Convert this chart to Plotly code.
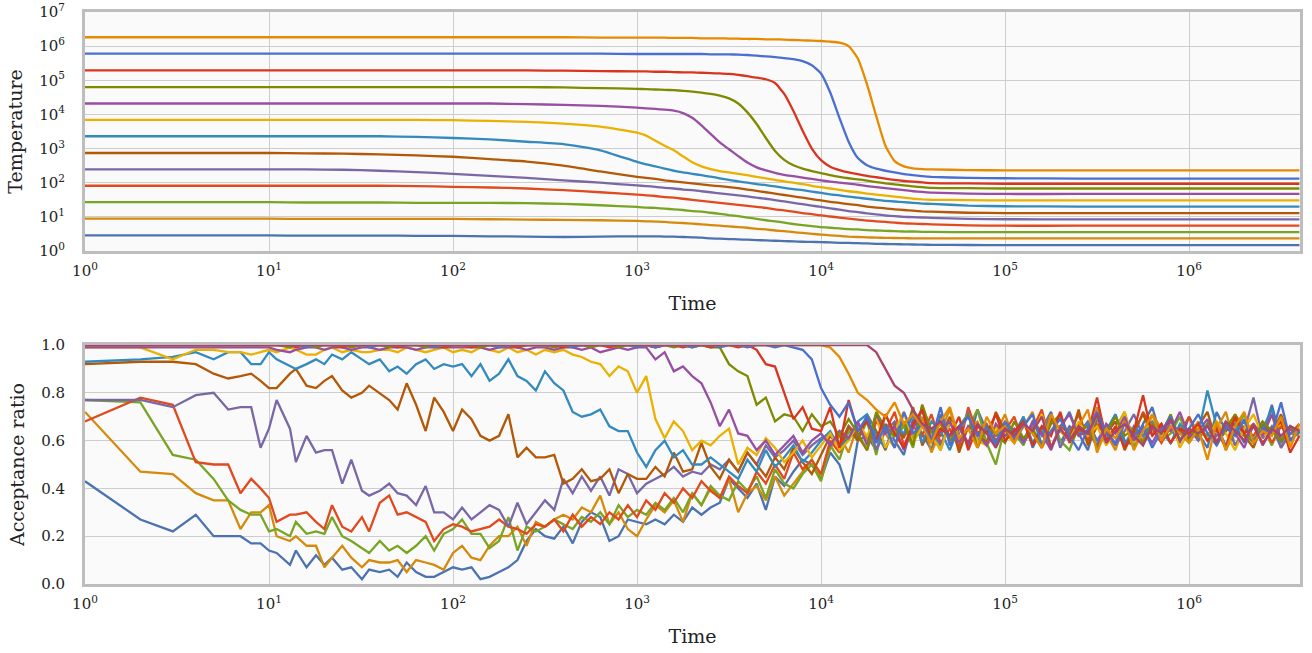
import plotly.graph_objects as go

# ---------------- data ----------------
series_colors = ["#4C72B0", "#D68A0C", "#78A524", "#E04A1E", "#7A68A6", "#B35806", "#348ABD",
                 "#EBB000", "#984EA3", "#7F8A00", "#D9341E", "#4A6FCF", "#E68A00", "#A8436E"]

x_tick_vals = [1, 10, 100, 1000, 10000, 100000, 1000000]
x_tick_text = ["10<sup>0</sup>", "10<sup>1</sup>", "10<sup>2</sup>", "10<sup>3</sup>",
               "10<sup>4</sup>", "10<sup>5</sup>", "10<sup>6</sup>"]
temp_tick_vals = [1, 10, 100, 1000, 10000, 100000, 1000000, 10000000]
temp_tick_text = ["10<sup>0</sup>", "10<sup>1</sup>", "10<sup>2</sup>", "10<sup>3</sup>",
                  "10<sup>4</sup>", "10<sup>5</sup>", "10<sup>6</sup>", "10<sup>7</sup>"]

# --- temperature panel: sample times and log10(temperature) per chain ---
temp_time = [1, 1.585, 2.512, 3.981, 6.31, 10, 15.85, 25.12, 39.81, 63.1, 100, 158.5, 251.2, 398.1, 631, 1000,
             1122, 1259, 1413, 1585, 1778, 1995, 2239, 2512, 2818, 3162,
             3548, 3981, 4467, 5012, 5623, 6310, 7079, 7943, 8913, 10000,
             11220, 12589, 14125, 15849, 17783, 19953, 22387, 25119, 28184, 31623,
             35481, 39811,
             63096, 100000, 251189, 630957, 1584893, 3981072]

log_temp_0 = [0.455, 0.455, 0.455, 0.455, 0.455, 0.455, 0.45, 0.45, 0.45, 0.445, 0.44, 0.43, 0.42, 0.41, 0.42, 0.43,
              0.43, 0.43, 0.42, 0.42, 0.41, 0.4, 0.39, 0.37, 0.36, 0.35,
              0.34, 0.33, 0.32, 0.31, 0.3, 0.29, 0.28, 0.27, 0.265, 0.26,
              0.25, 0.24, 0.235, 0.23, 0.22, 0.21, 0.205, 0.2, 0.195, 0.19,
              0.185, 0.18,
              0.175, 0.17, 0.17, 0.17, 0.17, 0.17]
log_temp_1 = [0.945, 0.945, 0.945, 0.945, 0.945, 0.945, 0.94, 0.94, 0.94, 0.94, 0.94, 0.93, 0.92, 0.91, 0.9, 0.88,
              0.87, 0.86, 0.85, 0.83, 0.82, 0.8, 0.78, 0.76, 0.74, 0.72,
              0.7, 0.68, 0.65, 0.63, 0.6, 0.58, 0.55, 0.53, 0.5, 0.48,
              0.46, 0.44, 0.42, 0.41, 0.4, 0.39, 0.385, 0.38, 0.375, 0.37,
              0.37, 0.37,
              0.367, 0.367, 0.367, 0.367, 0.367, 0.367]
log_temp_2 = [1.43, 1.43, 1.43, 1.43, 1.43, 1.43, 1.42, 1.42, 1.42, 1.41, 1.41, 1.41, 1.4, 1.38, 1.34, 1.29,
              1.27, 1.26, 1.24, 1.22, 1.2, 1.17, 1.15, 1.12, 1.09, 1.05,
              1.02, 0.98, 0.94, 0.9, 0.87, 0.83, 0.79, 0.76, 0.73, 0.7,
              0.68, 0.66, 0.64, 0.63, 0.61, 0.6, 0.59, 0.58, 0.57, 0.57,
              0.56, 0.56,
              0.55, 0.55, 0.55, 0.55, 0.55, 0.55]
log_temp_3 = [1.91, 1.91, 1.91, 1.91, 1.91, 1.91, 1.91, 1.91, 1.91, 1.9, 1.88, 1.86, 1.83, 1.78, 1.72, 1.65,
              1.63, 1.61, 1.58, 1.56, 1.53, 1.5, 1.47, 1.44, 1.41, 1.38,
              1.35, 1.32, 1.29, 1.26, 1.22, 1.19, 1.15, 1.11, 1.08, 1.04,
              1.01, 0.98, 0.95, 0.92, 0.89, 0.87, 0.85, 0.83, 0.81, 0.8,
              0.79, 0.78,
              0.75, 0.74, 0.74, 0.74, 0.74, 0.74]
log_temp_4 = [2.39, 2.39, 2.39, 2.39, 2.39, 2.39, 2.39, 2.38, 2.35, 2.31, 2.26, 2.2, 2.14, 2.07, 2.0, 1.92,
              1.9, 1.88, 1.85, 1.83, 1.8, 1.78, 1.75, 1.72, 1.69, 1.66,
              1.63, 1.6, 1.56, 1.53, 1.49, 1.45, 1.41, 1.37, 1.33, 1.29,
              1.25, 1.21, 1.17, 1.14, 1.1, 1.07, 1.04, 1.02, 1.0, 0.99,
              0.98, 0.97,
              0.94, 0.93, 0.925, 0.925, 0.925, 0.925]
log_temp_5 = [2.87, 2.87, 2.87, 2.87, 2.87, 2.87, 2.86, 2.85, 2.83, 2.8, 2.76, 2.69, 2.62, 2.5, 2.33, 2.17,
              2.14, 2.11, 2.07, 2.04, 2.01, 1.98, 1.95, 1.92, 1.9, 1.87,
              1.84, 1.8, 1.76, 1.72, 1.68, 1.64, 1.6, 1.56, 1.52, 1.48,
              1.44, 1.41, 1.37, 1.34, 1.3, 1.27, 1.25, 1.22, 1.2, 1.18,
              1.16, 1.15,
              1.12, 1.11, 1.11, 1.11, 1.11, 1.11]
log_temp_6 = [3.36, 3.36, 3.36, 3.36, 3.36, 3.36, 3.36, 3.36, 3.36, 3.34, 3.31, 3.27, 3.2, 3.13, 2.95, 2.61,
              2.54, 2.48, 2.41, 2.35, 2.3, 2.26, 2.22, 2.18, 2.13, 2.08,
              2.04, 2.0, 1.96, 1.93, 1.89, 1.85, 1.81, 1.78, 1.74, 1.7,
              1.66, 1.63, 1.59, 1.56, 1.53, 1.5, 1.47, 1.45, 1.43, 1.41,
              1.39, 1.38,
              1.33, 1.31, 1.3, 1.3, 1.3, 1.3]
log_temp_7 = [3.84, 3.84, 3.84, 3.84, 3.84, 3.84, 3.84, 3.84, 3.84, 3.84, 3.83, 3.81, 3.78, 3.73, 3.64, 3.47,
              3.38, 3.23, 3.08, 2.95, 2.77, 2.6, 2.48, 2.4, 2.34, 2.3,
              2.26, 2.22, 2.17, 2.13, 2.08, 2.04, 2.0, 1.96, 1.91, 1.87,
              1.83, 1.79, 1.75, 1.72, 1.68, 1.65, 1.62, 1.59, 1.56, 1.53,
              1.51, 1.5,
              1.49, 1.48, 1.48, 1.48, 1.48, 1.48]
log_temp_8 = [4.32, 4.32, 4.32, 4.32, 4.32, 4.32, 4.32, 4.32, 4.32, 4.32, 4.32, 4.32, 4.3, 4.28, 4.25, 4.2,
              4.18, 4.16, 4.14, 4.11, 4.04, 3.9, 3.68, 3.43, 3.18, 2.98,
              2.78, 2.59, 2.45, 2.36, 2.29, 2.23, 2.19, 2.15, 2.11, 2.07,
              2.03, 2.0, 1.97, 1.94, 1.9, 1.87, 1.84, 1.81, 1.78, 1.75,
              1.73, 1.71,
              1.68, 1.67, 1.67, 1.67, 1.67, 1.67]
log_temp_9 = [4.8, 4.8, 4.8, 4.8, 4.8, 4.8, 4.8, 4.8, 4.8, 4.8, 4.8, 4.8, 4.8, 4.79, 4.77, 4.75,
              4.74, 4.73, 4.72, 4.71, 4.69, 4.67, 4.64, 4.6, 4.55, 4.47,
              4.32, 4.06, 3.72, 3.31, 2.93, 2.67, 2.51, 2.41, 2.34, 2.28,
              2.22, 2.17, 2.13, 2.1, 2.06, 2.02, 1.98, 1.95, 1.92, 1.89,
              1.87, 1.85,
              1.84, 1.83, 1.83, 1.83, 1.83, 1.83]
log_temp_10 = [5.29, 5.29, 5.29, 5.29, 5.29, 5.29, 5.29, 5.29, 5.29, 5.29, 5.29, 5.29, 5.29, 5.28, 5.27, 5.26,
               5.26, 5.25, 5.25, 5.24, 5.23, 5.23, 5.22, 5.21, 5.2, 5.19,
               5.16, 5.12, 5.08, 5.03, 4.92, 4.6, 4.1, 3.52, 3.0, 2.66,
               2.47, 2.37, 2.3, 2.25, 2.2, 2.16, 2.12, 2.08, 2.05, 2.03,
               2.01, 1.99,
               1.98, 1.97, 1.97, 1.97, 1.97, 1.97]
log_temp_11 = [5.78, 5.78, 5.78, 5.78, 5.78, 5.78, 5.78, 5.78, 5.78, 5.78, 5.78, 5.78, 5.78, 5.78, 5.78, 5.77,
               5.77, 5.77, 5.77, 5.77, 5.77, 5.77, 5.77, 5.76, 5.76, 5.76,
               5.75, 5.74, 5.72, 5.7, 5.68, 5.65, 5.62, 5.56, 5.44, 5.2,
               4.64, 3.9, 3.2, 2.72, 2.51, 2.41, 2.35, 2.3, 2.25, 2.22,
               2.19, 2.17,
               2.14, 2.13, 2.12, 2.12, 2.12, 2.12]
log_temp_12 = [6.26, 6.26, 6.26, 6.26, 6.26, 6.26, 6.26, 6.26, 6.26, 6.26, 6.26, 6.26, 6.26, 6.26, 6.25, 6.25,
               6.25, 6.25, 6.25, 6.24, 6.24, 6.24, 6.23, 6.23, 6.23, 6.22,
               6.22, 6.21, 6.21, 6.2, 6.2, 6.19, 6.18, 6.17, 6.16, 6.15,
               6.13, 6.1, 6.0, 5.64, 4.88, 3.95, 3.08, 2.63, 2.48, 2.42,
               2.4, 2.39,
               2.37, 2.36, 2.36, 2.36, 2.36, 2.36]

log_temps = [log_temp_0, log_temp_1, log_temp_2, log_temp_3, log_temp_4, log_temp_5, log_temp_6,
             log_temp_7, log_temp_8, log_temp_9, log_temp_10, log_temp_11, log_temp_12]

# --- acceptance panel: sample times and acceptance ratio (percent) per chain ---
acc_time = [1, 2, 3, 4, 5, 6, 7, 8, 9, 10,
            11, 13, 14, 16, 18, 20, 22, 25, 28, 32, 35, 40, 45, 50, 56, 63, 71, 79, 89, 100,
            112, 126, 141, 158, 178, 200, 224, 251, 282, 316, 355, 398, 447, 501, 562, 631, 708, 794, 891, 1000,
            1122, 1259, 1413, 1585, 1778, 1995, 2239, 2512, 2818, 3162, 3548, 3981, 4467, 5012, 5623, 6310, 7079, 7943, 8913, 10000,
            11220, 12589, 14125, 15849, 17783, 19953, 22387, 25119, 28184, 31623, 35481, 39811, 44668, 50119, 56234, 63096, 70795, 79433, 89125, 100000,
            112202, 125893, 141254, 158489, 177828, 199526, 223872, 251189, 281838, 316228, 354813, 398107, 446684, 501187, 562341, 630957, 707946, 794328, 891251, 1000000,
            1122018, 1258925, 1412538, 1584893, 1778279, 1995262, 2238721, 2511886, 2818383, 3162278, 3548134, 3981072]

acc_pct_0 = [43, 27, 22, 29, 20, 20, 20, 17, 17, 14,
             13, 8, 14, 7, 12, 8, 11, 6, 7, 2, 6, 5, 6, 3, 9, 5, 3, 3, 5, 7,
             6, 7, 2, 3, 5, 7, 10, 18, 23, 20, 19, 24, 17, 26, 30, 28, 18, 20, 27, 26,
             25, 27, 25, 29, 26, 32, 29, 32, 34, 44, 40, 36, 42, 31, 45, 41, 47, 52, 50, 44,
             55, 50, 38, 60, 62, 56, 67, 60, 54, 69, 63, 56, 71, 60, 66, 58, 73, 64, 59, 68,
             61, 70, 57, 65, 72, 59, 66, 63, 56, 69, 64, 71, 60, 58, 67, 74, 61, 65, 59, 70,
             63, 57, 72, 64, 67, 59, 66, 62, 75, 60, 65, 63]
acc_pct_1 = [72, 47, 46, 38, 35, 35, 23, 30, 30, 33,
             20, 18, 20, 16, 16, 7, 11, 16, 11, 7, 10, 9, 9, 10, 5, 10, 9, 8, 6, 13,
             16, 11, 10, 16, 20, 20, 24, 16, 26, 24, 27, 29, 27, 32, 30, 37, 25, 30, 23, 20,
             27, 33, 30, 35, 26, 38, 33, 40, 36, 44, 30, 38, 41, 35, 45, 37, 42, 47, 52, 45,
             57, 62, 55, 67, 60, 71, 63, 57, 67, 61, 70, 55, 64, 73, 59, 65, 68, 58, 63, 71,
             60, 66, 72, 57, 64, 70, 62, 67, 59, 74, 63, 56, 68, 64, 60, 71, 65, 59, 66, 62,
             68, 60, 65, 72, 58, 64, 67, 62, 71, 57, 66, 64]
acc_pct_2 = [77, 76, 54, 52, 44, 35, 31, 29, 29, 22,
             23, 20, 26, 21, 22, 21, 28, 20, 18, 15, 13, 18, 14, 16, 13, 16, 20, 14, 21, 23,
             27, 21, 21, 15, 18, 28, 14, 24, 22, 24, 27, 25, 23, 28, 26, 30, 25, 33, 28, 31,
             29, 34, 31, 36, 30, 38, 33, 41, 37, 35, 43, 39, 45, 36, 48, 42, 40, 46, 50, 43,
             58, 52, 64, 60, 68, 54, 71, 62, 66, 57, 75, 63, 56, 68, 61, 65, 73, 59, 50, 66,
             63, 58, 68, 64, 71, 60, 56, 66, 62, 70, 59, 65, 72, 57, 64, 67, 60, 63, 70, 59,
             65, 62, 68, 56, 64, 71, 60, 66, 58, 67, 63, 62]
acc_pct_3 = [68, 78, 75, 51, 50, 50, 38, 44, 40, 36,
             26, 29, 29, 30, 26, 23, 33, 24, 22, 28, 22, 34, 37, 29, 30, 28, 26, 18, 23, 25,
             24, 22, 23, 24, 27, 24, 23, 21, 25, 24, 27, 22, 29, 24, 28, 25, 30, 27, 33, 28,
             35, 31, 38, 34, 40, 36, 43, 39, 36, 45, 41, 38, 47, 42, 50, 44, 55, 48, 52, 46,
             60, 55, 66, 62, 56, 68, 64, 72, 58, 66, 62, 71, 59, 65, 57, 74, 63, 67, 60, 64,
             70, 59, 65, 73, 57, 66, 63, 71, 60, 67, 64, 58, 68, 62, 72, 65, 59, 66, 63, 70,
             60, 67, 64, 57, 71, 65, 62, 68, 59, 66, 63, 67]
acc_pct_4 = [77, 77, 74, 79, 80, 73, 74, 74, 57, 65,
             77, 65, 51, 62, 55, 56, 56, 42, 52, 39, 37, 39, 42, 38, 37, 33, 41, 30, 30, 27,
             32, 27, 30, 33, 31, 24, 34, 25, 30, 35, 31, 44, 38, 45, 39, 45, 37, 48, 46, 38,
             42, 44, 46, 49, 45, 47, 46, 50, 48, 52, 47, 55, 50, 58, 53, 56, 60, 54, 58, 61,
             63, 58, 66, 61, 70, 56, 64, 68, 62, 71, 59, 65, 58, 67, 63, 72, 57, 66, 62, 68,
             64, 59, 67, 62, 71, 57, 65, 63, 68, 60, 66, 58, 64, 71, 62, 66, 60, 68, 63, 65,
             60, 67, 62, 68, 58, 64, 78, 61, 66, 57, 63, 65]
acc_pct_5 = [92, 93, 93, 92, 88, 86, 87, 88, 85, 82,
             82, 88, 90, 83, 82, 85, 87, 81, 78, 80, 83, 80, 77, 73, 84, 75, 64, 78, 72, 64,
             73, 69, 62, 60, 62, 71, 53, 57, 53, 53, 54, 42, 44, 48, 43, 44, 48, 38, 46, 44,
             44, 49, 45, 55, 47, 48, 59, 49, 44, 52, 47, 55, 50, 45, 53, 48, 57, 51, 46, 54,
             62, 57, 66, 60, 71, 64, 56, 67, 61, 74, 58, 65, 62, 70, 55, 66, 63, 59, 72, 64,
             59, 67, 63, 57, 69, 65, 60, 73, 58, 66, 63, 68, 56, 64, 71, 62, 67, 59, 65, 61,
             66, 72, 59, 64, 69, 62, 57, 67, 63, 71, 60, 65]
acc_pct_6 = [93, 94, 95, 97, 94, 97, 97, 92, 92, 97,
             94, 91, 90, 92, 94, 92, 96, 94, 97, 94, 92, 94, 89, 91, 88, 92, 94, 90, 92, 91,
             92, 87, 92, 85, 88, 94, 87, 85, 81, 89, 84, 81, 72, 70, 71, 73, 66, 64, 64, 55,
             49, 56, 60, 53, 56, 50, 50, 53, 50, 47, 44, 52, 47, 56, 49, 53, 58, 51, 55, 60,
             64, 57, 61, 68, 71, 62, 57, 66, 63, 72, 59, 68, 64, 56, 66, 71, 60, 65, 58, 67,
             63, 70, 59, 66, 57, 65, 72, 62, 67, 60, 64, 71, 58, 66, 62, 68, 64, 59, 67, 63,
             63, 81, 66, 58, 64, 68, 60, 65, 73, 59, 66, 63]
acc_pct_7 = [99, 99, 94, 98, 98, 97, 97, 96, 97, 98,
             97, 99, 98, 96, 96, 98, 99, 97, 98, 97, 97, 98, 98, 97, 99, 98, 97, 98, 99, 97,
             98, 97, 99, 98, 97, 99, 97, 98, 96, 98, 97, 98, 96, 95, 93, 92, 87, 91, 89, 80,
             87, 69, 61, 68, 64, 56, 60, 58, 62, 65, 50, 57, 54, 61, 57, 51, 55, 60, 53, 58,
             63, 56, 60, 67, 62, 70, 57, 64, 72, 59, 66, 62, 56, 68, 64, 71, 60, 58, 66, 63,
             59, 67, 63, 71, 57, 65, 60, 68, 62, 66, 58, 64, 72, 59, 65, 67, 62, 70, 57, 64,
             66, 60, 68, 63, 56, 65, 71, 62, 64, 67, 59, 65]
acc_pct_8 = [99, 99, 99, 99, 99, 99, 99, 99, 99, 99,
             98, 97, 98, 99, 99, 98, 99, 99, 98, 99, 99, 98, 99, 99, 99, 98, 99, 99, 99, 99,
             99, 99, 99, 98, 99, 99, 99, 98, 99, 99, 98, 99, 99, 98, 99, 97, 98, 99, 98, 99,
             99, 94, 97, 89, 91, 87, 84, 76, 66, 73, 63, 62, 56, 60, 54, 58, 62, 55, 60, 63,
             58, 64, 61, 68, 58, 71, 63, 66, 56, 65, 73, 60, 64, 68, 59, 66, 63, 58, 67, 62,
             65, 60, 68, 63, 56, 66, 71, 62, 64, 58, 67, 63, 70, 60, 65, 59, 66, 64, 72, 62,
             64, 69, 59, 66, 63, 57, 67, 62, 71, 60, 65, 63]
acc_pct_9 = [100, 100, 100, 100, 100, 100, 100, 100, 100, 100,
             100, 99, 100, 100, 99, 100, 100, 100, 99, 100, 100, 100, 99, 100, 100, 100, 99, 100, 100, 100,
             100, 100, 99, 100, 100, 100, 99, 100, 100, 100, 99, 100, 100, 100, 99, 100, 100, 99, 100, 100,
             100, 99, 100, 99, 100, 99, 100, 99, 99, 92, 89, 87, 75, 78, 68, 71, 70, 64, 71, 66,
             68, 62, 69, 63, 56, 72, 65, 62, 68, 58, 75, 64, 67, 60, 65, 71, 57, 66, 63, 59,
             68, 61, 65, 58, 67, 71, 60, 64, 66, 57, 63, 70, 62, 65, 59, 67, 63, 71, 60, 64,
             62, 67, 58, 65, 71, 63, 59, 68, 64, 60, 66, 63]
acc_pct_10 = [100, 100, 100, 100, 100, 100, 100, 100, 100, 100,
              100, 100, 99, 100, 100, 100, 100, 99, 100, 100, 100, 100, 100, 99, 100, 100, 100, 100, 99, 100,
              100, 99, 100, 100, 100, 100, 99, 100, 100, 100, 100, 99, 100, 100, 100, 100, 99, 100, 100, 100,
              100, 99, 100, 100, 99, 100, 100, 99, 100, 100, 99, 100, 98, 92, 91, 80, 69, 74, 65, 64,
              74, 57, 77, 64, 68, 60, 71, 63, 57, 67, 73, 59, 65, 62, 70, 56, 66, 63, 71, 60,
              64, 68, 58, 66, 62, 72, 59, 65, 63, 78, 60, 66, 57, 64, 79, 62, 67, 59, 65, 63,
              67, 60, 65, 57, 70, 63, 66, 59, 64, 68, 55, 62]
acc_pct_11 = [100, 100, 100, 100, 100, 100, 100, 100, 100, 100,
              100, 100, 100, 99, 100, 100, 100, 100, 100, 100, 99, 100, 100, 100, 100, 100, 100, 99, 100, 100,
              100, 100, 100, 100, 99, 100, 100, 100, 100, 100, 100, 100, 99, 100, 100, 100, 100, 100, 100, 99,
              100, 99, 100, 100, 100, 99, 100, 100, 99, 100, 100, 99, 100, 100, 99, 100, 99, 98, 94, 82,
              75, 70, 76, 64, 70, 59, 66, 57, 72, 63, 67, 60, 74, 58, 65, 70, 62, 66, 59, 67,
              60, 66, 71, 58, 64, 69, 62, 56, 65, 72, 63, 59, 67, 62, 66, 57, 64, 70, 60, 65,
              71, 63, 58, 66, 62, 69, 59, 65, 63, 76, 60, 64]
acc_pct_12 = [100, 100, 100, 100, 100, 100, 100, 100, 100, 100,
              100, 100, 100, 100, 100, 100, 100, 100, 100, 100, 100, 100, 100, 100, 100, 100, 100, 100, 100, 100,
              100, 100, 100, 100, 100, 100, 100, 100, 100, 100, 100, 100, 100, 100, 100, 100, 100, 100, 100, 100,
              100, 100, 100, 100, 100, 100, 100, 100, 100, 100, 100, 100, 100, 100, 100, 100, 100, 100, 100, 100,
              99, 95, 88, 80, 77, 73, 70, 76, 67, 71, 66, 59, 68, 74, 61, 65, 57, 70, 63, 66,
              59, 67, 63, 57, 71, 64, 60, 66, 73, 55, 65, 61, 68, 56, 64, 71, 60, 66, 63, 59,
              65, 52, 68, 56, 66, 72, 59, 64, 62, 70, 57, 67]
acc_pct_13 = [100, 100, 100, 100, 100, 100, 100, 100, 100, 100,
              100, 100, 100, 100, 100, 100, 100, 100, 100, 100, 100, 100, 100, 100, 100, 100, 100, 100, 100, 100,
              100, 100, 100, 100, 100, 100, 100, 100, 100, 100, 100, 100, 100, 100, 100, 100, 100, 100, 100, 100,
              100, 100, 100, 100, 100, 100, 100, 100, 100, 100, 100, 100, 100, 100, 100, 100, 100, 100, 100, 100,
              100, 100, 100, 100, 100, 97, 90, 83, 80, 73, 67, 65, 68, 62, 66, 59, 67, 63, 57, 65,
              62, 67, 64, 70, 57, 65, 60, 66, 63, 71, 59, 64, 67, 62, 58, 66, 63, 69, 60, 65,
              63, 66, 59, 68, 64, 60, 67, 58, 65, 62, 66, 64]

acc_pcts = [acc_pct_0, acc_pct_1, acc_pct_2, acc_pct_3, acc_pct_4, acc_pct_5, acc_pct_6,
            acc_pct_7, acc_pct_8, acc_pct_9, acc_pct_10, acc_pct_11, acc_pct_12, acc_pct_13]

for s in log_temps:
    assert len(s) == len(temp_time), len(s)
for s in acc_pcts:
    assert len(s) == len(acc_time), len(s)

# ---------------- figure ----------------
fig = go.Figure()

for vals, color in zip(log_temps, series_colors):
    fig.add_trace(go.Scatter(
        x=temp_time, y=[10 ** v for v in vals], mode="lines",
        line=dict(color=color, width=2.3, shape="spline", smoothing=0.5),
        xaxis="x", yaxis="y", showlegend=False, hoverinfo="skip"))

for vals, color in zip(acc_pcts, series_colors):
    fig.add_trace(go.Scatter(
        x=acc_time, y=[v / 100 for v in vals], mode="lines",
        line=dict(color=color, width=2.3),
        xaxis="x2", yaxis="y2", showlegend=False, hoverinfo="skip"))

FONT = "DejaVu Serif"
tick_font = dict(family=FONT, size=15, color="#222222")
title_font = dict(family=FONT, size=19, color="#222222")

common = dict(showline=True, mirror=True, linecolor="#bdbdbd", linewidth=3,
              showgrid=True, gridcolor="#cdcdcd", gridwidth=1.4, zeroline=False,
              ticks="outside", tickcolor="rgba(0,0,0,0)", tickfont=tick_font,
              automargin=False)

fig.update_layout(
    width=1312, height=653,
    margin=dict(l=85, r=12, t=12, b=69, autoexpand=False),
    paper_bgcolor="white", plot_bgcolor="#fafafa",
    xaxis=dict(type="log", range=[0, 6.603], domain=[0, 1], anchor="y",
               tickvals=x_tick_vals, ticktext=x_tick_text, ticklen=4,
               title=dict(text="Time", font=title_font, standoff=18), **common),
    yaxis=dict(type="log", range=[0, 7], domain=[0.5822, 1], anchor="x",
               tickvals=temp_tick_vals, ticktext=temp_tick_text, ticklen=14,
               title=dict(text="Temperature", font=title_font, standoff=12), **common),
    xaxis2=dict(type="log", range=[0, 6.603], domain=[0, 1], anchor="y2",
                tickvals=x_tick_vals, ticktext=x_tick_text, ticklen=4,
                title=dict(text="Time", font=title_font, standoff=18), **common),
    yaxis2=dict(range=[0, 1], domain=[0, 0.4178], anchor="x2",
                tickvals=[0, 0.2, 0.4, 0.6, 0.8, 1.0], tickformat=".1f", ticklen=14,
                title=dict(text="Acceptance ratio", font=title_font, standoff=12), **common),
)

fig.write_html("out.html")
